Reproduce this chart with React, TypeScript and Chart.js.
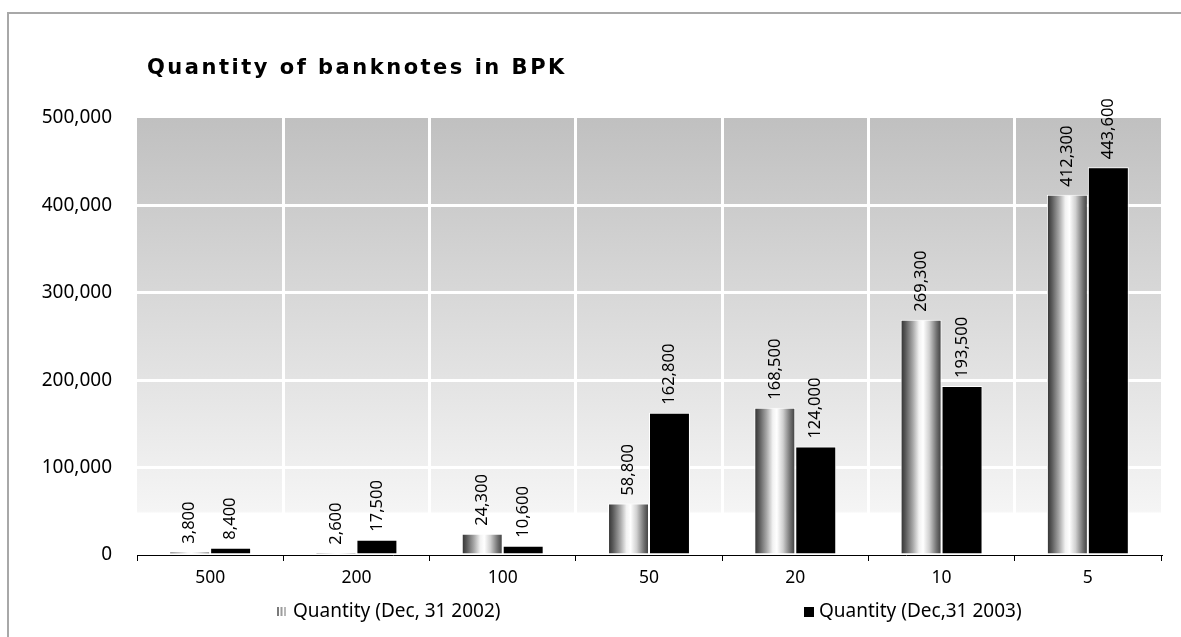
import React, { useEffect, useRef } from 'react';
import { Chart, registerables } from 'chart.js';

Chart.register(...registerables);

const TITLE = 'Quantity of banknotes in BPK';
const CATEGORIES = ['500', '200', '100', '50', '20', '10', '5'];
const LABEL_2002 = 'Quantity (Dec, 31 2002)';
const LABEL_2003 = 'Quantity (Dec,31 2003)';
const QTY_2002 = [3800, 2600, 24300, 58800, 168500, 269300, 412300];
const QTY_2003 = [8400, 17500, 10600, 162800, 124000, 193500, 443600];
const Y_MIN = 0;
const Y_MAX = 500000;
const Y_STEP = 100000;

const FONT = '"Noto Sans", "DejaVu Sans", sans-serif';
const TITLE_FONT = '"DejaVu Sans", Verdana, sans-serif';
const CAT_PCT = 0.56;
const fmt = (v: number) => v.toLocaleString('en-US');

const cylinder = (chart: any, dataIndex: number) => {
  const xs = chart.scales && chart.scales.x;
  if (!xs || dataIndex === undefined) return '#999999';
  const center = xs.getPixelForValue(dataIndex);
  const cw = xs.width / CATEGORIES.length;
  if (!isFinite(center) || !isFinite(cw) || cw <= 0) return '#999999';
  const bw = (cw * CAT_PCT) / 2;
  const l = center - bw;
  const r = center;
  const g = chart.ctx.createLinearGradient(l, 0, r, 0);
  g.addColorStop(0, '#2e2e2e');
  g.addColorStop(0.12, '#5a5a5a');
  g.addColorStop(0.3, '#a8a8a8');
  g.addColorStop(0.45, '#f2f2f2');
  g.addColorStop(0.55, '#ffffff');
  g.addColorStop(0.7, '#d0d0d0');
  g.addColorStop(0.88, '#707070');
  g.addColorStop(1, '#3a3a3a');
  return g;
};

const bgPlugin = {
  id: 'plotBg',
  beforeDraw(chart: any) {
    const { ctx, chartArea } = chart;
    if (!chartArea) return;
    const { left, top, right, bottom } = chartArea;
    const g = ctx.createLinearGradient(0, top, 0, bottom);
    g.addColorStop(0, '#c0c0c0');
    g.addColorStop(0.9, '#f5f5f5');
    g.addColorStop(0.905, '#ffffff');
    g.addColorStop(1, '#ffffff');
    ctx.save();
    ctx.fillStyle = g;
    ctx.fillRect(left, top, right - left, bottom - top);
    ctx.restore();
  },
};

const labelsPlugin = {
  id: 'valueLabels',
  afterDatasetsDraw(chart: any) {
    const ctx = chart.ctx;
    chart.data.datasets.forEach((ds: any, di: number) => {
      const meta = chart.getDatasetMeta(di);
      meta.data.forEach((el: any, i: number) => {
        const v = ds.data[i];
        ctx.save();
        ctx.translate(el.x, el.y - 8);
        ctx.rotate(-Math.PI / 2);
        ctx.font = `16.5px ${FONT}`;
        ctx.fillStyle = '#000';
        ctx.textAlign = 'left';
        ctx.textBaseline = 'middle';
        ctx.fillText(fmt(v), 0, 0);
        ctx.restore();
      });
    });
  },
};

const decorPlugin = {
  id: 'decor',
  afterDraw(chart: any) {
    const ctx = chart.ctx;
    ctx.save();
    ctx.font = `bold 21px ${TITLE_FONT}`;
    (ctx as any).letterSpacing = '2.5px';
    ctx.fillStyle = '#000';
    ctx.textAlign = 'left';
    ctx.textBaseline = 'alphabetic';
    ctx.fillText(TITLE, 147, 74);
    (ctx as any).letterSpacing = '0px';

    const ly = 612;
    const stripe = ['#7a7a7a', '#9c9c9c', '#b8b8b8'];
    stripe.forEach((c, k) => {
      ctx.fillStyle = c;
      ctx.fillRect(277 + k * 3.5, 607, 2, 9);
    });
    ctx.fillStyle = '#000';
    ctx.fillRect(804, 607, 10, 10);
    ctx.font = `19px ${FONT}`;
    ctx.textBaseline = 'middle';
    ctx.fillStyle = '#000';
    ctx.fillText(chart.data.datasets[0].label, 293, ly);
    ctx.fillText(chart.data.datasets[1].label, 819, ly);
    ctx.restore();
  },
};

export default function App() {
  const ref = useRef<HTMLCanvasElement | null>(null);

  useEffect(() => {
    if (!ref.current) return;
    const chart = new Chart(ref.current, {
      type: 'bar',
      data: {
        labels: CATEGORIES,
        datasets: [
          {
            label: LABEL_2002,
            data: QTY_2002,
            backgroundColor: (c: any) => cylinder(c.chart, c.dataIndex),
            borderColor: '#ffffff',
            borderWidth: 1,
            categoryPercentage: CAT_PCT,
            barPercentage: 1,
          },
          {
            label: LABEL_2003,
            data: QTY_2003,
            backgroundColor: '#000000',
            borderColor: '#ffffff',
            borderWidth: 1,
            categoryPercentage: CAT_PCT,
            barPercentage: 1,
          },
        ],
      },
      options: {
        responsive: false,
        animation: false,
        layout: { padding: { top: 118, right: 20, bottom: 0, left: 0 } },
        plugins: {
          legend: { display: false },
          title: { display: false },
          tooltip: { enabled: false },
        },
        scales: {
          x: {
            offset: true,
            afterFit: (s: any) => {
              s.height = 82;
            },
            grid: {
              offset: true,
              color: (c: any) =>
                c.index === undefined || c.index === 0 ? 'rgba(0,0,0,0)' : '#ffffff',
              lineWidth: 3,
              drawTicks: true,
              tickLength: 6,
              tickWidth: 1,
              tickColor: '#000000',
            },
            border: { display: true, color: '#000000', width: 1 },
            ticks: {
              color: '#000000',
              font: { family: FONT, size: 17.5 },
              padding: 7,
            },
          },
          y: {
            min: Y_MIN,
            max: Y_MAX,
            afterFit: (s: any) => {
              s.width = 137;
            },
            grid: {
              color: (c: any) =>
                c.tick && (c.tick.value === Y_MIN || c.tick.value === Y_MAX)
                  ? 'rgba(0,0,0,0)'
                  : '#ffffff',
              lineWidth: 3,
              drawTicks: false,
            },
            border: { display: false },
            ticks: {
              stepSize: Y_STEP,
              color: '#000000',
              font: { family: FONT, size: 19 },
              padding: 25,
              callback: (v: any) => fmt(Number(v)),
            },
          },
        },
      },
      plugins: [bgPlugin, labelsPlugin, decorPlugin],
    } as any);
    return () => chart.destroy();
  }, []);

  return (
    <>
      <div
        style={{
          position: 'absolute',
          left: 7,
          top: 12,
          width: 1174,
          height: 625,
          boxSizing: 'border-box',
          borderTop: '2px solid #a8a8a8',
          borderLeft: '2px solid #a8a8a8',
        }}
      />
      <canvas
        ref={ref}
        width={1181}
        height={637}
        style={{ position: 'absolute', left: 0, top: 0, width: 1181, height: 637 }}
      />
    </>
  );
}
